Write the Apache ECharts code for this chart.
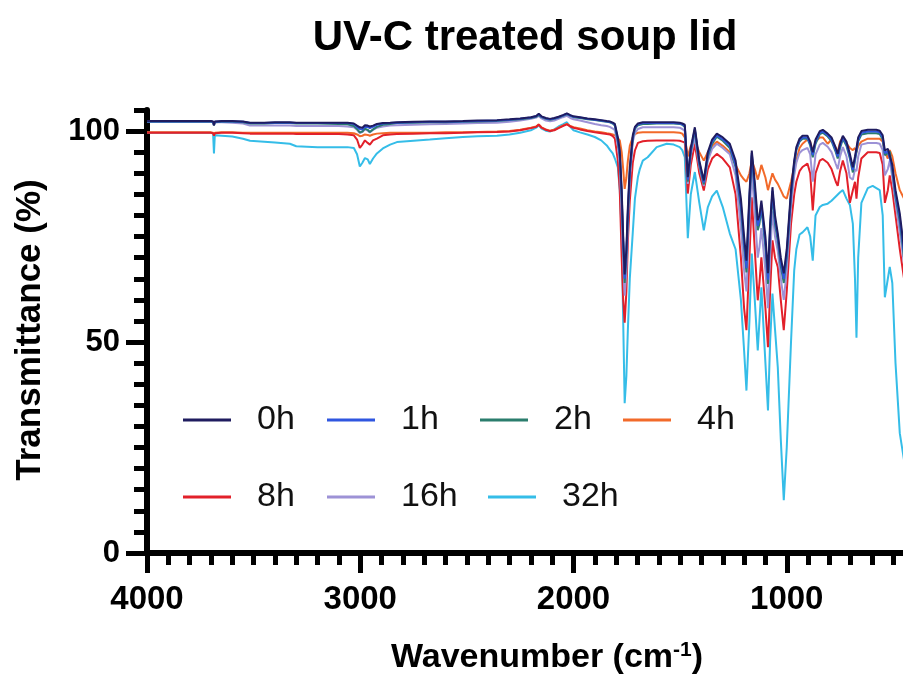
<!DOCTYPE html>
<html><head><meta charset="utf-8">
<script src="https://cdn.jsdelivr.net/npm/echarts@6/dist/echarts.min.js"></script>
<style>html,body{margin:0;padding:0;background:#fff}#c{width:903px;height:680px}</style>
</head><body><div id="c"></div>
<script>
// Wavenumbers (cm-1), shared by all series
const WN = [
  4000, 3900, 3800, 3700, 3690, 3686, 3682, 3650, 3600, 3550, 3517, 3450, 3400, 3330, 3300, 3200, 3100, 3060, 3030,
  3015, 3002, 2990, 2978, 2965, 2955, 2940, 2922, 2894, 2860, 2828,
  2750, 2674, 2600, 2519, 2450, 2359, 2300, 2250, 2200, 2175, 2163, 2150, 2130, 2110, 2090, 2070, 2050, 2031, 2015, 2000,
  1970, 1935, 1900, 1870, 1844, 1830, 1816, 1806, 1792, 1783, 1774, 1767, 1760, 1752, 1745, 1736, 1722, 1712, 1698, 1689, 1675, 1652, 1610,
  1563, 1530, 1502, 1490, 1478, 1464, 1450, 1431, 1410, 1389, 1370, 1350, 1328, 1300,
  1267, 1240, 1215, 1200, 1189, 1175, 1164, 1150, 1136, 1128, 1119, 1100, 1088, 1078, 1067, 1055, 1042, 1028, 1014, 1000,
  980, 965, 955, 940, 926, 903, 890, 878, 865, 845, 831, 808, 790, 770, 761, 750, 737, 720, 704, 690,
  680, 673, 665, 650, 620, 597, 580, 564, 550, 540, 526, 517, 505, 490, 470, 450, 430
];

const T_0h = [
  102.4, 102.4, 102.4, 102.4, 102.3, 101.4, 102.3, 102.4, 102.4, 102.3, 102.0, 102.0, 102.1, 102.1, 102.0, 102.0, 102.0, 102.0, 101.8,
  101.3, 100.9, 100.8, 101.4, 101.3, 101.1, 101.3, 101.7, 101.9, 102.0, 102.1,
  102.2, 102.3, 102.3, 102.4, 102.5, 102.6, 102.8, 103.0, 103.3, 103.6, 104.1, 103.5, 103.1, 102.9, 103.1, 103.4, 103.8, 104.2, 103.8, 103.5,
  103.3, 103.0, 102.8, 102.6, 102.4, 102.3, 102.0, 101.7, 98.5, 95.4, 86, 75, 66, 72, 82, 91.4, 99, 101, 101.8, 102.0, 102.1, 102.1, 102.1,
  102.1, 102.1, 102.0, 101.8, 101.5, 89.1, 96, 100.9, 93, 88.3, 95, 98, 99.4, 98.5,
  97, 93, 84, 75, 69.3, 85, 95.4, 88, 78.9, 80, 83.5, 75, 66.3, 78, 86.7, 80, 75.7, 70, 66.3, 72,
  86, 93, 96.2, 98.2, 98.9, 98.9, 97.5, 95, 98, 100, 100.3, 99.4, 98.5, 96, 94.6, 97, 98.9, 97.5, 94.6, 91.4,
  94, 96, 98.5, 100, 100.3, 100.3, 100.3, 100.1, 99, 95.4, 95.8, 96.2, 92, 86, 80.5, 72, 68
];
const T_1h = [
  102.3, 102.3, 102.3, 102.3, 102.2, 101.5, 102.2, 102.3, 102.3, 102.2, 101.9, 101.9, 102.0, 102.0, 101.9, 101.9, 101.9, 101.9, 101.7,
  101.0, 100.5, 100.4, 101.0, 101.0, 100.7, 101.0, 101.5, 101.8, 101.9, 102.0,
  102.1, 102.2, 102.2, 102.3, 102.4, 102.5, 102.7, 102.9, 103.2, 103.5, 104.0, 103.4, 103.0, 102.8, 103.0, 103.3, 103.7, 104.1, 103.7, 103.4,
  103.2, 102.9, 102.7, 102.5, 102.3, 102.2, 101.9, 101.5, 98.0, 94.5, 85, 74, 65, 71, 81, 90.5, 98.6, 100.8, 101.6, 101.8, 101.9, 101.9, 101.9,
  101.9, 101.9, 101.8, 101.6, 101.2, 88.5, 95.5, 100.5, 92.5, 87.8, 94.5, 97.5, 99, 98,
  96.5, 92, 82.5, 73.5, 67.5, 84, 94.8, 86.5, 77.5, 79, 82.5, 73.5, 64.8, 77, 85.8, 79, 74.8, 69, 65, 71,
  85, 92.5, 95.8, 97.8, 98.5, 98.5, 97, 94.3, 97.5, 99.6, 99.9, 99, 98, 95.4, 94, 96.5, 98.5, 97, 94, 90.8,
  93.4, 95.5, 98, 99.6, 99.9, 99.9, 99.9, 99.7, 98.5, 94.8, 95.2, 95.6, 91.3, 85.2, 79.5, 71, 67
];
const T_2h = [
  102.2, 102.2, 102.2, 102.2, 102.1, 101.4, 102.1, 102.2, 102.2, 102.1, 101.8, 101.8, 101.9, 101.9, 101.8, 101.8, 101.7, 101.6, 101.2,
  100.5, 99.7, 99.9, 100.6, 100.3, 99.8, 100.4, 101.0, 101.5, 101.7, 101.9,
  102.0, 102.1, 102.1, 102.2, 102.3, 102.4, 102.6, 102.8, 103.1, 103.4, 103.8, 103.3, 102.9, 102.7, 102.9, 103.2, 103.6, 104.0, 103.6, 103.3,
  103.1, 102.8, 102.6, 102.4, 102.2, 102.1, 101.8, 101.3, 97.5, 94, 84, 73, 64, 70, 80, 90, 98.3, 100.5, 101.4, 101.6, 101.7, 101.7, 101.8,
  101.8, 101.8, 101.7, 101.5, 101, 88, 95, 100.2, 92, 87.4, 94, 97, 98.7, 97.7,
  96, 91.5, 81.5, 72.5, 66.5, 83, 94.2, 85.5, 76.5, 78, 81.8, 72.5, 63.8, 76, 85, 78, 74, 68, 64, 70,
  84.5, 92, 95.5, 97.5, 98.2, 98.2, 96.6, 93.8, 97, 99.3, 99.6, 98.7, 97.6, 95, 93.5, 96, 98.1, 96.5, 93.5, 90.2,
  93, 95, 97.6, 99.2, 99.5, 99.5, 99.5, 99.3, 98, 94.3, 94.7, 95.2, 90.6, 84.4, 78.6, 70, 66
];
const T_4h = [
  99.7, 99.7, 99.7, 99.7, 99.6, 99.1, 99.6, 99.7, 99.7, 99.6, 99.6, 99.6, 99.6, 99.6, 99.6, 99.6, 99.6, 99.6, 99.5,
  99.2, 98.8, 98.9, 99.2, 99.1, 98.9, 99.2, 99.4, 99.5, 99.6, 99.6,
  99.6, 99.6, 99.7, 99.7, 99.8, 99.9, 100.0, 100.3, 100.8, 101.1, 101.6, 100.9, 100.4, 100.1, 100.3, 100.8, 101.3, 101.7, 101.2, 100.9,
  100.6, 100.2, 99.9, 99.7, 99.5, 99.4, 99.2, 99.0, 98.3, 97.8, 95, 91, 86.3, 89, 93, 96.5, 98.6, 99.3, 99.6, 99.7, 99.7, 99.7, 99.7,
  99.7, 99.7, 99.6, 99.4, 98.5, 94, 96.5, 97.5, 95, 93, 95, 96.5, 97.5, 96.5,
  95, 92, 89.5, 88.5, 88, 90, 93, 91, 88.5, 90, 92, 89, 86, 88, 90, 88.5, 87.5, 86, 84.5, 84,
  88, 91.5, 93, 96, 97, 98, 97.5, 95, 97.5, 98.5, 98.5, 97, 98, 96, 95, 97.5, 98.5, 97, 96, 95.5,
  96, 95, 96.5, 97.5, 98.2, 98.2, 98.2, 98.2, 97.5, 95, 93.5, 95.5, 94, 90, 86, 84, 82
];
const T_8h = [
  99.6, 99.6, 99.6, 99.6, 99.5, 98.9, 99.5, 99.6, 99.6, 99.5, 99.4, 99.4, 99.4, 99.4, 99.3, 99.3, 99.3, 99.2, 99.0,
  98.0, 96.0, 96.8, 97.8, 97.2, 96.8, 97.8, 98.2, 99.0, 99.2, 99.3,
  99.4, 99.5, 99.5, 99.6, 99.7, 99.8, 99.9, 100.2, 100.7, 101.0, 101.5, 100.8, 100.3, 100.0, 100.2, 100.7, 101.2, 101.6, 101.1, 100.8,
  100.4, 100.0, 99.7, 99.5, 99.3, 99.2, 98.8, 98.2, 93, 86, 70, 60, 54.6, 62, 74, 83.5, 92.5, 95.4, 97.2, 97.4, 97.6, 97.7, 97.8,
  97.8, 97.8, 97.7, 97.5, 97.3, 85.2, 92, 97, 90, 85.9, 91, 93.5, 94.6, 93.5,
  91.4, 85, 70, 58, 52.8, 70, 84.3, 72, 59.9, 64, 70.1, 58, 48.8, 62, 74.1, 70, 67.8, 60, 52.8, 62,
  78, 85, 88, 90.5, 91.5, 92.3, 90, 81.2, 90, 93, 93.4, 92.5, 91, 88, 87, 90.5, 93, 90, 83, 86,
  88, 84, 89, 93.5, 95, 95, 95, 94.8, 92, 83, 86, 89.5, 86, 80, 72, 65, 60
];
const T_16h = [
  102.2, 102.2, 102.2, 102.2, 102.1, 101.3, 102.1, 102.1, 102.0, 101.8, 101.3, 101.3, 101.3, 101.3, 101.2, 101.2, 101.2, 101.1, 100.9,
  100.3, 99.5, 99.8, 100.4, 100.1, 99.7, 100.3, 100.8, 101.1, 101.3, 101.4,
  101.5, 101.6, 101.7, 101.8, 101.9, 102.0, 102.2, 102.5, 102.9, 103.2, 103.6, 103.0, 102.5, 102.3, 102.5, 102.9, 103.3, 103.6, 103.1, 102.8,
  102.5, 102.1, 101.7, 101.4, 101.2, 101.0, 100.6, 100.2, 96.5, 92, 80, 69, 61, 67, 78, 88.5, 97.5, 99.5, 100.5, 100.8, 100.9, 100.9, 100.9,
  100.9, 100.9, 100.8, 100.5, 100.0, 87.5, 94.3, 98.5, 91.5, 87, 93, 95.8, 97, 96,
  94.5, 89.5, 77, 67, 62, 78.5, 90.5, 80.5, 70, 72.5, 77, 67, 58, 70.5, 81, 75, 71.5, 65, 60, 67,
  82, 89.5, 92.5, 94.8, 95.5, 96, 94.5, 88, 94.5, 96.8, 97.2, 96.3, 95, 92.2, 91, 94, 96.2, 94, 89, 88.5,
  91, 90.5, 94, 96.8, 97.2, 97.2, 97.2, 97, 95.5, 89.5, 91, 93, 89, 83, 76, 68.5, 64
];
const T_32h = [
  99.6, 99.6, 99.6, 99.6, 99.4, 94.7, 99.0, 98.9, 98.7, 98.2, 97.7, 97.5, 97.3, 97.0, 96.4, 96.2, 96.2, 96.2, 96.0,
  94.5, 91.6, 92.5, 93.6, 93.3, 92.2, 93.5, 94.7, 95.9, 96.8, 97.4,
  97.7, 98.0, 98.3, 98.6, 98.8, 98.9, 99.2, 99.6, 100.2, 100.8, 101.4, 100.6, 100.1, 99.9, 100.4, 101.1, 101.6, 102.1, 101.0, 100.2,
  99.7, 99.2, 98.6, 97.8, 96.6, 95.6, 94.7, 93.5, 91.4, 86, 75.7, 55, 35.5, 42, 53, 65, 76, 84, 89.1, 91, 93, 93.8, 96.2,
  97, 96.8, 96.2, 95.5, 93.8, 74.6, 85, 90.3, 83, 76.5, 82, 84.5, 85.9, 82,
  75.7, 72, 60, 48, 38.5, 55, 71, 60, 48, 55, 63, 45, 33.8, 50, 61.5, 53, 44, 27, 12.5, 25,
  50, 67, 72, 75.5, 76, 77.2, 75, 69.3, 80, 82, 82.5, 82.8, 83.5, 84.5, 84.8, 85.5, 86, 84, 82.5, 78,
  65, 51, 70, 83, 86.5, 87, 86.5, 86, 80, 60.6, 65, 67.8, 64, 45, 28.4, 22, 20
];

const NAMES = ['0h', '1h', '2h', '4h', '8h', '16h', '32h'];
const VALUES = [T_0h, T_1h, T_2h, T_4h, T_8h, T_16h, T_32h];
const COLORS = ['#1f1c5f', '#2f56e0', '#2b7d6d', '#f26a2a', '#e2202a', '#9d92d6', '#35bde8'];
const DRAW_ORDER = ['32h', '4h', '8h', '16h', '2h', '1h', '0h'];

VALUES.forEach((v, i) => { if (v.length !== WN.length) throw new Error(NAMES[i] + ' length ' + v.length + ' vs ' + WN.length); });

const FF = '"Liberation Sans", Arial, Helvetica, sans-serif';

// legend placement (layout only)
const LEGEND_LAYOUT = [
  { name: '0h', left: 183, cy: 420 }, { name: '1h', left: 327, cy: 420 },
  { name: '2h', left: 480, cy: 420 }, { name: '4h', left: 623, cy: 420 },
  { name: '8h', left: 183, cy: 497 }, { name: '16h', left: 327, cy: 497 },
  { name: '32h', left: 488, cy: 497 }
];

const series = DRAW_ORDER.map(n => {
  const i = NAMES.indexOf(n);
  return {
    name: n, type: 'line', xAxisIndex: 0, yAxisIndex: 0,
    data: WN.map((w, k) => [w, VALUES[i][k]]),
    showSymbol: false, symbol: 'none', smooth: false,
    lineStyle: { width: 2, color: COLORS[i] }, itemStyle: { color: COLORS[i] },
    emphasis: { disabled: true }, animation: false
  };
});

const legends = LEGEND_LAYOUT.map(l => ({
  data: [l.name], left: l.left, top: l.cy - 17, padding: 0,
  itemWidth: 48, itemHeight: 3, icon: 'rect', selectedMode: false,
  textStyle: { fontFamily: FF, fontSize: 34, color: '#111', lineHeight: 34, padding: [0, 0, 0, 21] }
}));

const grid = { left: 147, top: 110, width: 853, height: 443, outerBoundsMode: 'none', containLabel: false };

const option = {
  backgroundColor: '#fff',
  animation: false,
  grid: grid,
  legend: legends,
  xAxis: [
    { type: 'value', inverse: true, min: 0, max: 4000, interval: 100, position: 'bottom',
      axisLine: { show: true, onZero: false, lineStyle: { color: '#000', width: 6 } },
      axisTick: { show: true, length: 12, lineStyle: { color: '#000', width: 5 } },
      axisLabel: { show: false }, splitLine: { show: false } },
    { type: 'value', inverse: true, min: 0, max: 4000, interval: 1000, position: 'bottom',
      axisLine: { show: false, onZero: false },
      axisTick: { show: true, length: 20, lineStyle: { color: '#000', width: 5 } },
      axisLabel: { show: true, margin: 30, fontFamily: FF, fontSize: 33, fontWeight: 'bold', color: '#000',
        formatter: v => String(v) },
      splitLine: { show: false } }
  ],
  yAxis: [
    { type: 'value', min: 0, max: 105, interval: 5, position: 'left',
      axisLine: { show: true, onZero: false, lineStyle: { color: '#000', width: 6 } },
      axisTick: { show: true, length: 13, lineStyle: { color: '#000', width: 5 } },
      axisLabel: { show: false }, splitLine: { show: false } },
    { type: 'value', min: 0, max: 105, interval: 50, position: 'left',
      axisLine: { show: false, onZero: false },
      axisTick: { show: true, length: 21, customValues: [0, 50, 100], lineStyle: { color: '#000', width: 5 } },
      axisLabel: { show: true, margin: 27, customValues: [0, 50, 100], fontFamily: FF, fontSize: 31, fontWeight: 'bold', color: '#000',
        formatter: v => (v % 50 === 0 ? String(v) : '') },
      splitLine: { show: false } }
  ],
  graphic: [
    { type: 'text', x: 525, y: 38, silent: true,
      style: { text: 'UV-C treated soup lid', font: 'bold 42px ' + FF, fill: '#000', align: 'center', verticalAlign: 'middle' } },
    { type: 'text', x: 30, y: 330, rotation: Math.PI / 2, silent: true,
      style: { text: 'Transmittance (%)', font: 'bold 35px ' + FF, fill: '#000', align: 'center', verticalAlign: 'middle' } },
    { type: 'text', x: 547, y: 658, silent: true,
      style: { text: 'Wavenumber (cm{sup|-1})', font: 'bold 34px ' + FF, fill: '#000', align: 'center', verticalAlign: 'middle',
        rich: { sup: { fontSize: 21, fontWeight: 'bold', fontFamily: FF, verticalAlign: 'top', lineHeight: 36 } } } }
  ],
  series: series
};

const chart = echarts.init(document.getElementById('c'), null, { renderer: 'canvas' });
chart.setOption(option);
</script></body></html>
